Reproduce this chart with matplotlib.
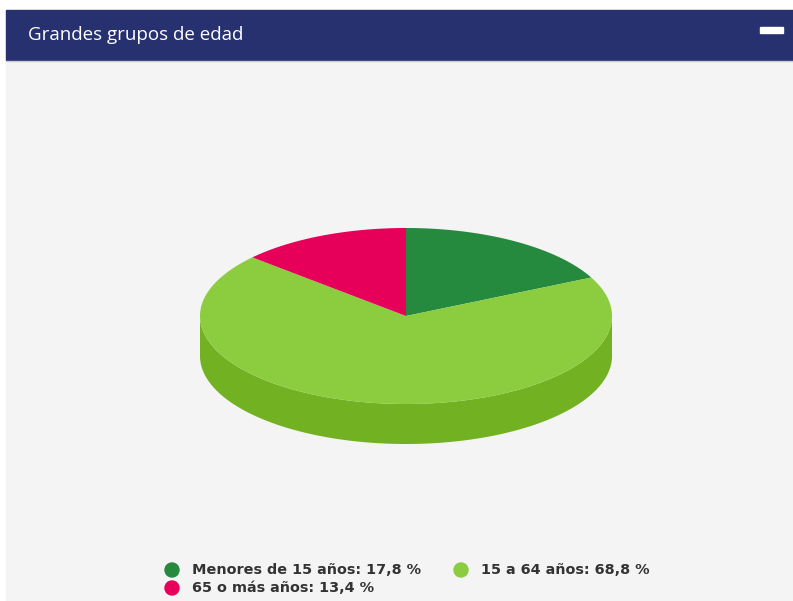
import numpy as np
import matplotlib.pyplot as plt
from matplotlib.patches import Polygon, Rectangle, Circle

title = "Grandes grupos de edad"
labels = ["Menores de 15 años", "15 a 64 años", "65 o más años"]
values = [17.8, 68.8, 13.4]
top_colors = ["#268a3e", "#8ccc3f", "#e6005a"]
side_colors = ["#1c6e30", "#72b122", "#b80048"]

W, H = 793, 601
fig = plt.figure(figsize=(W / 100, H / 100), dpi=100)
ax = fig.add_axes([0, 0, 1, 1])
ax.set_xlim(0, W)
ax.set_ylim(H, 0)
ax.axis("off")

# panel + header
ax.add_patch(Rectangle((6, 60), W - 6, H - 60, color="#f4f4f4", zorder=0))
ax.add_patch(Rectangle((6, 10), W - 6, 50, color="#27316f", zorder=1))
ax.plot([6, W], [61, 61], color="#c8c8d0", lw=1, zorder=1)
ax.text(28, 35, title, color="white", fontsize=13.5, family="Open Sans",
        va="center", ha="left", zorder=2)
ax.add_patch(Rectangle((760, 27), 23, 6, color="white", zorder=2))

# 3d pie geometry
cx, cy, rx, ry, depth = 406, 316, 206, 88, 40


def pt(t, dy=0):
    return cx + rx * np.cos(t), cy - ry * np.sin(t) + dy


fracs = np.array(values) / sum(values)
starts = np.pi / 2 - 2 * np.pi * np.concatenate([[0], np.cumsum(fracs)[:-1]])
ends = starts - 2 * np.pi * fracs

# sides (front half only)
for s, e, col in zip(starts, ends, side_colors):
    t = np.linspace(s, e, 400)
    front = np.sin(t) <= 0
    if not front.any():
        continue
    tf = t[front]
    x1, y1 = pt(tf)
    x2, y2 = pt(tf[::-1], depth)
    poly = np.column_stack([np.concatenate([x1, x2]), np.concatenate([y1, y2])])
    ax.add_patch(Polygon(poly, closed=True, color=col, lw=0, zorder=3))

# top
for s, e, col in zip(starts, ends, top_colors):
    t = np.linspace(s, e, 300)
    x, y = pt(t)
    poly = np.column_stack([np.concatenate([[cx], x]), np.concatenate([[cy], y])])
    ax.add_patch(Polygon(poly, closed=True, color=col, lw=0, zorder=4))

# legend
leg_pos = [(172, 570), (461, 570), (172, 588)]
for (lx, ly), lab, val, col in zip(leg_pos, labels, values, top_colors):
    ax.add_patch(Circle((lx, ly), 7, color=col, zorder=5))
    txt = f"{lab}: {val:.1f} %".replace(".", ",")
    ax.text(lx + 20, ly, txt, fontsize=10.4, fontweight="bold", color="#333333",
            va="center", ha="left", zorder=5)

fig.savefig("out.png", dpi=100)
